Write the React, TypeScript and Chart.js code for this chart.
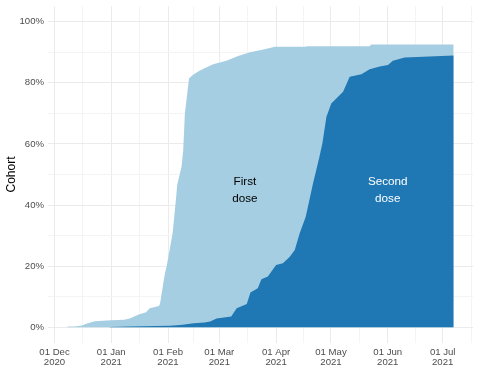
import React, { useEffect, useRef } from "react";
import { Chart, registerables } from "chart.js";

Chart.register(...registerables);

// x values are days since 01 Dec 2020
const firstDoseDays = [7, 11, 15, 17, 22, 31, 38, 41, 46, 50, 52, 57, 57.6, 60.3, 61.2, 64.5, 66.3, 67, 69.4, 70.3, 71.2, 73.5, 75.7, 79.4, 86.6, 93.9, 100.3, 106.7, 114.8, 120.3, 137, 138, 172, 173, 218];
const firstDosePct = [0.3, 0.3, 0.6, 1.1, 2.0, 2.3, 2.5, 2.9, 4.2, 4.9, 6.2, 7.0, 7.6, 17.7, 19.8, 30.8, 41.7, 46.6, 52.6, 58, 70, 81.5, 82.6, 84.0, 86.1, 87.2, 88.8, 90.0, 91.0, 91.8, 91.8, 92.0, 92.0, 92.5, 92.5];

const secondDoseDays = [30, 41, 55, 63, 70, 76, 82, 85, 88.5, 96.5, 99.5, 105, 107, 111, 113, 116.5, 121, 124.7, 128.5, 131.2, 133.9, 137.2, 141.2, 144.5, 146.3, 148.5, 151.2, 152.1, 157.6, 161.2, 167.6, 172.1, 177.6, 182.1, 184.8, 191.2, 218];
const secondDosePct = [0.1, 0.3, 0.4, 0.5, 0.8, 1.3, 1.6, 1.9, 2.9, 3.5, 6.2, 7.6, 11.4, 12.8, 15.7, 16.6, 20.4, 21.0, 23.1, 25.3, 30.8, 36.2, 47.1, 55.3, 60.2, 68.9, 73.3, 73.8, 77.1, 82.0, 82.8, 84.4, 85.3, 85.8, 87.2, 88.3, 88.9];

const xMajorTicks = [0, 31, 62, 90, 121, 151, 182, 212];
const xMajorLabels = [["01 Dec", "2020"], ["01 Jan", "2021"], ["01 Feb", "2021"], ["01 Mar", "2021"], ["01 Apr", "2021"], ["01 May", "2021"], ["01 Jun", "2021"], ["01 Jul", "2021"]];
const xMinorTicks = [15.5, 46.5, 76, 105.5, 136, 166.5, 197, 227.5];

const yMajorTicks = [0, 20, 40, 60, 80, 100];
const yMinorTicks = [10, 30, 50, 70, 90];

const seriesLabels = ["First dose", "Second dose"];
const labelAnchors = [
  { day: 104, pct: 44.8, lines: ["First", "dose"], color: "#000000" },
  { day: 182, pct: 44.8, lines: ["Second", "dose"], color: "#FFFFFF" },
];

const FONT = "'Liberation Sans', Arial, sans-serif";

export default function App() {
  const ref = useRef<HTMLCanvasElement | null>(null);
  useEffect(() => {
    if (!ref.current) return;
    const textPlugin = {
      id: "areaLabels",
      afterDatasetsDraw(chart: any) {
        const { ctx, scales } = chart;
        ctx.save();
        ctx.font = `11.7px ${FONT}`;
        ctx.textAlign = "center";
        ctx.textBaseline = "middle";
        for (const a of labelAnchors) {
          const x = scales.x.getPixelForValue(a.day);
          const y = scales.y.getPixelForValue(a.pct);
          ctx.fillStyle = a.color;
          ctx.fillText(a.lines[0], x, y - 8.5);
          ctx.fillText(a.lines[1], x, y + 8.5);
        }
        ctx.restore();
      },
    };
    const chart = new Chart(ref.current, {
      type: "line",
      data: {
        datasets: [
          {
            label: seriesLabels[1],
            data: secondDoseDays.map((d, i) => ({ x: d, y: secondDosePct[i] })),
            backgroundColor: "#1F78B4",
            borderWidth: 0,
            pointRadius: 0,
            fill: "origin",
            tension: 0,
          },
          {
            label: seriesLabels[0],
            data: firstDoseDays.map((d, i) => ({ x: d, y: firstDosePct[i] })),
            backgroundColor: "#A6CEE3",
            borderWidth: 0,
            pointRadius: 0,
            fill: "origin",
            tension: 0,
          },
        ],
      },
      options: {
        animation: false,
        responsive: true,
        maintainAspectRatio: false,
        layout: { padding: { left: 0, right: 7, top: 6.4, bottom: 0 } },
        plugins: { legend: { display: false }, tooltip: { enabled: false } },
        scales: {
          x: {
            type: "linear",
            min: -3.55,
            max: 228.55,
            afterBuildTicks: (scale: any) => {
              scale.ticks = [...xMajorTicks, ...xMinorTicks].sort((a, b) => a - b).map((v) => ({ value: v }));
            },
            afterFit: (scale: any) => {
              scale.height = 44.4;
              scale.paddingLeft = 0;
              scale.paddingRight = 0;
            },
            border: { display: false },
            grid: {
              drawTicks: false,
              color: (c: any) => (xMajorTicks.includes(c.tick?.value) ? "#EBEBEB" : "#F4F4F4"),
              lineWidth: 1,
            },
            ticks: {
              autoSkip: false,
              maxRotation: 0,
              padding: 5,
              color: "#4D4D4D",
              font: { family: FONT, size: 9.6, lineHeight: 1.05 },
              callback: (v: any) => {
                const i = xMajorTicks.indexOf(Number(v));
                return i >= 0 ? xMajorLabels[i] : "";
              },
            },
          },
          y: {
            type: "linear",
            min: -5,
            max: 105,
            afterBuildTicks: (scale: any) => {
              scale.ticks = [...yMajorTicks, ...yMinorTicks].sort((a, b) => a - b).map((v) => ({ value: v }));
            },
            afterFit: (scale: any) => {
              scale.width = 48;
              scale.paddingTop = 0;
              scale.paddingBottom = 0;
            },
            border: { display: false },
            grid: {
              drawTicks: false,
              color: (c: any) => (yMajorTicks.includes(c.tick?.value) ? "#EBEBEB" : "#F4F4F4"),
              lineWidth: 1,
            },
            title: {
              display: true,
              text: "Cohort",
              color: "#000000",
              font: { family: FONT, size: 12 },
              padding: { top: 4.5, bottom: 0 },
            },
            ticks: {
              padding: 4,
              color: "#4D4D4D",
              font: { family: FONT, size: 9.6 },
              callback: (v: any) => (yMajorTicks.includes(Number(v)) ? `${v}%` : ""),
            },
          },
        },
      },
      plugins: [textPlugin],
    });
    return () => chart.destroy();
  }, []);
  return (
    <div style={{ position: "fixed", left: 0, top: 0, width: 480, height: 387, background: "#fff" }}>
      <canvas ref={ref} />
    </div>
  );
}
